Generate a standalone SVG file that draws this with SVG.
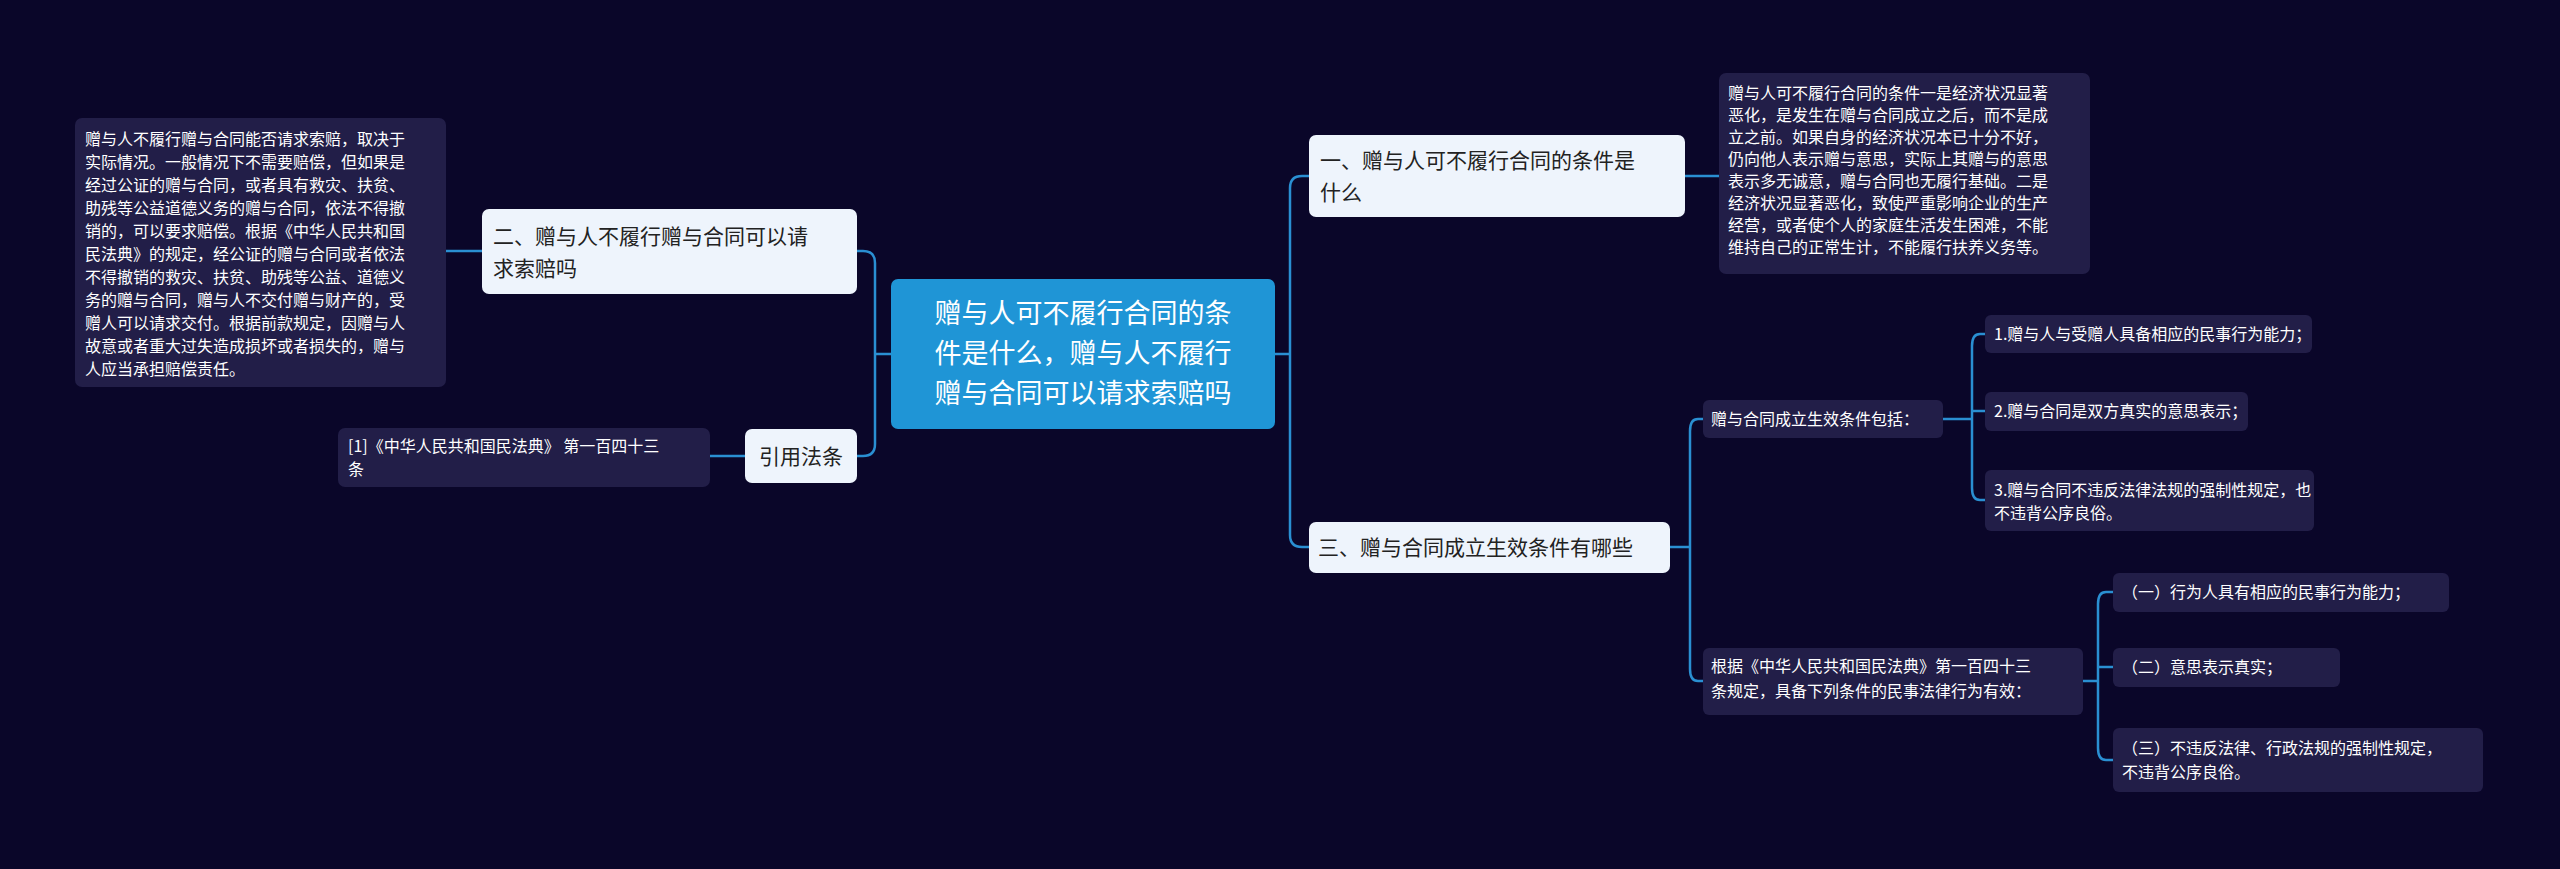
<svg xmlns="http://www.w3.org/2000/svg" width="2560" height="869" viewBox="0 0 2560 869">
<style>
text{font-family:"Noto Sans CJK SC","Liberation Sans",sans-serif}
.d{fill:#221e48}
.l{fill:#eef4fc}
.dt{fill:#ffffff;font-size:16px}
.lt{fill:#222222;font-size:21px}
.c path{fill:none;stroke:#2a8fd2;stroke-width:2.5}
</style>
<rect width="2560" height="869" fill="#0a0629"/>
<g class="c">
<path d="M891 354H875M875 354V263Q875 251 863 251H857M875 354V444Q875 456 863 456H857"/>
<path d="M482 251H446M745 456H710"/>
<path d="M1275 354H1290M1290 354V188Q1290 176 1302 176H1309M1290 354V535Q1290 547 1302 547H1309"/>
<path d="M1685 176H1719"/>
<path d="M1670 547H1690M1690 547V431Q1690 419 1698 419H1703M1690 547V669Q1690 681 1698 681H1703"/>
<path d="M1943 419H1972M1972 419V346Q1972 334 1980 334H1985M1972 419V411H1985M1972 419V488Q1972 500 1980 500H1985"/>
<path d="M2083 681H2098M2098 681V604Q2098 592 2106 592H2113M2098 681V667H2113M2098 681V748Q2098 760 2106 760H2113"/>
</g>
<g id="center"><rect x="891" y="279" width="384" height="150" rx="7" fill="#1f95d6"/>
<text fill="#fff" font-size="27px" text-anchor="middle"><tspan x="1083" y="323">赠与人可不履行合同的条</tspan><tspan x="1083" y="363">件是什么，赠与人不履行</tspan><tspan x="1083" y="403">赠与合同可以请求索赔吗</tspan></text></g>
<g id="n2"><rect class="l" x="482" y="209" width="375" height="85" rx="7"/>
<text class="lt"><tspan x="493" y="244">二、赠与人不履行赠与合同可以请</tspan><tspan x="493" y="276">求索赔吗</tspan></text></g>
<g id="n2t"><rect class="d" x="75" y="118" width="371" height="269" rx="7"/>
<text class="dt"><tspan x="85" y="145">赠与人不履行赠与合同能否请求索赔，取决于</tspan><tspan x="85" y="168">实际情况。一般情况下不需要赔偿，但如果是</tspan><tspan x="85" y="191">经过公证的赠与合同，或者具有救灾、扶贫、</tspan><tspan x="85" y="214">助残等公益道德义务的赠与合同，依法不得撤</tspan><tspan x="85" y="237">销的，可以要求赔偿。根据《中华人民共和国</tspan><tspan x="85" y="260">民法典》的规定，经公证的赠与合同或者依法</tspan><tspan x="85" y="283">不得撤销的救灾、扶贫、助残等公益、道德义</tspan><tspan x="85" y="306">务的赠与合同，赠与人不交付赠与财产的，受</tspan><tspan x="85" y="329">赠人可以请求交付。根据前款规定，因赠与人</tspan><tspan x="85" y="352">故意或者重大过失造成损坏或者损失的，赠与</tspan><tspan x="85" y="375">人应当承担赔偿责任。</tspan></text></g>
<g id="cite"><rect class="l" x="745" y="429" width="112" height="54" rx="7"/>
<text class="lt" x="801" y="464" text-anchor="middle">引用法条</text></g>
<g id="citet"><rect class="d" x="338" y="428" width="372" height="59" rx="7"/>
<text class="dt"><tspan x="348" y="452">[1]《中华人民共和国民法典》 第一百四十三</tspan><tspan x="348" y="475">条</tspan></text></g>
<g id="n1"><rect class="l" x="1309" y="135" width="376" height="82" rx="7"/>
<text class="lt"><tspan x="1320" y="168">一、赠与人可不履行合同的条件是</tspan><tspan x="1320" y="200">什么</tspan></text></g>
<g id="n1t"><rect class="d" x="1719" y="73" width="371" height="201" rx="7"/>
<text class="dt"><tspan x="1728" y="99">赠与人可不履行合同的条件一是经济状况显著</tspan><tspan x="1728" y="121">恶化，是发生在赠与合同成立之后，而不是成</tspan><tspan x="1728" y="143">立之前。如果自身的经济状况本已十分不好，</tspan><tspan x="1728" y="165">仍向他人表示赠与意思，实际上其赠与的意思</tspan><tspan x="1728" y="187">表示多无诚意，赠与合同也无履行基础。二是</tspan><tspan x="1728" y="209">经济状况显著恶化，致使严重影响企业的生产</tspan><tspan x="1728" y="231">经营，或者使个人的家庭生活发生困难，不能</tspan><tspan x="1728" y="253">维持自己的正常生计，不能履行扶养义务等。</tspan></text></g>
<g id="n3"><rect class="l" x="1309" y="522" width="361" height="51" rx="7"/>
<text class="lt" x="1318" y="555">三、赠与合同成立生效条件有哪些</text></g>
<g id="a"><rect class="d" x="1703" y="400" width="240" height="38" rx="6"/>
<text class="dt" x="1711" y="425">赠与合同成立生效条件包括：</text></g>
<g id="a1"><rect class="d" x="1985" y="315" width="327" height="38" rx="6"/>
<text class="dt" x="1994" y="340">1.赠与人与受赠人具备相应的民事行为能力；</text></g>
<g id="a2"><rect class="d" x="1985" y="392" width="263" height="39" rx="6"/>
<text class="dt" x="1994" y="417">2.赠与合同是双方真实的意思表示；</text></g>
<g id="a3"><rect class="d" x="1985" y="470" width="329" height="61" rx="6"/>
<text class="dt"><tspan x="1994" y="496">3.赠与合同不违反法律法规的强制性规定，也</tspan><tspan x="1994" y="519">不违背公序良俗。</tspan></text></g>
<g id="b"><rect class="d" x="1703" y="648" width="380" height="67" rx="6"/>
<text class="dt"><tspan x="1711" y="672">根据《中华人民共和国民法典》第一百四十三</tspan><tspan x="1711" y="697">条规定，具备下列条件的民事法律行为有效：</tspan></text></g>
<g id="b1"><rect class="d" x="2113" y="573" width="336" height="39" rx="6"/>
<text class="dt" x="2122" y="598">（一）行为人具有相应的民事行为能力；</text></g>
<g id="b2"><rect class="d" x="2113" y="648" width="227" height="39" rx="6"/>
<text class="dt" x="2122" y="673">（二）意思表示真实；</text></g>
<g id="b3"><rect class="d" x="2113" y="728" width="370" height="64" rx="6"/>
<text class="dt"><tspan x="2122" y="754">（三）不违反法律、行政法规的强制性规定，</tspan><tspan x="2122" y="778">不违背公序良俗。</tspan></text></g>
</svg>
